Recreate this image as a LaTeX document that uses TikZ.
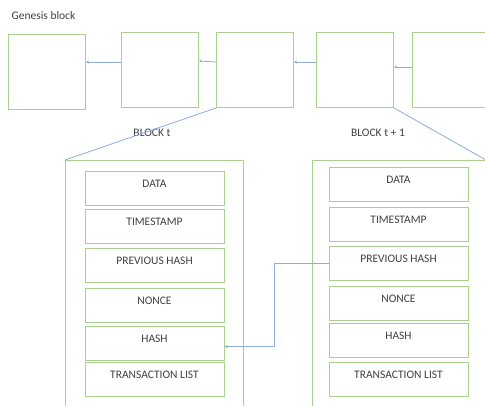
\documentclass[tikz,border=0pt]{standalone}
\usepackage{fontspec}
\setmainfont{Carlito}
\usetikzlibrary{arrows.meta}

\definecolor{boxgreen}{HTML}{A9D18E}
\definecolor{linkblue}{HTML}{8FAADC}
\definecolor{labelgray}{HTML}{404040}

\begin{document}
\begin{tikzpicture}[x=1pt,y=-1pt,
    every node/.style={text=labelgray,font=\fontsize{11.5}{13}\selectfont},
    blk/.style={draw=boxgreen,line width=1pt,minimum width=77pt,minimum height=75pt,anchor=north west},
    field/.style={draw=boxgreen,line width=1pt,minimum width=139pt,inner sep=0pt,
      text height=16pt,text depth=18pt,anchor=north},
    link/.style={draw=linkblue,line width=0.8pt},
    >={Stealth[width=3pt,length=3pt]}]
    \useasboundingbox (0,0) rectangle (485,405);
    \clip (0,0) rectangle (485,405);

    % chain of blocks
    \node[anchor=west] (gen) at (8,16) {Genesis block};
    \node[blk] (b0) at (8,34) {};
    \node[blk] (b1) at (121,32) {};
    \node[blk] (b2) at (216,32) {};
    \node[blk] (b3) at (316,32) {};
    \node[blk] (b4) at (412,32) {};
    \draw[link,->]([yshift=8pt]b1.west)--([yshift=8pt]b1.west -| b0.east);
    \draw[link,->]([yshift=8pt]b2.west)--([yshift=9pt]b1.east);
    \draw[link,->]([yshift=8pt]b3.west)--([yshift=8pt]b3.west -| b2.east);
    \draw[link,->]([yshift=3pt]b4.west)--([yshift=3pt]b4.west -| b3.east);

    \node (tl) at (152,133) {BLOCK t};
    \node (tr) at (378,133) {BLOCK t + 1};

    % zoomed-in blocks
    \coordinate (lf) at (65,160);
    \coordinate (rf) at (486,160);
    \draw[draw=boxgreen,line width=1pt](65,410)--(lf)--(243,160)--(243,410);
    \draw[draw=boxgreen,line width=1pt](312,410)--(312,160)--(rf)--(486,410);
    \draw[link](b2.south west)--(lf);
    \draw[link](b3.south east)--(rf);

    % fields of block t
    \node[field] (l-data) at (154.5,171) {DATA};
    \node[field] (l-time) at (154.5,209) {TIMESTAMP};
    \node[field] (l-prev) at (154.5,248) {PREVIOUS HASH};
    \node[field] (l-nonce) at (154.5,288) {NONCE};
    \node[field] (l-hash) at (154.5,326) {HASH};
    \node[field] (l-tx) at (154.5,362) {TRANSACTION LIST};

    % fields of block t+1
    \node[field] (r-data) at (398.5,167) {DATA};
    \node[field] (r-time) at (398.5,207) {TIMESTAMP};
    \node[field] (r-prev) at (398.5,246) {PREVIOUS HASH};
    \node[field] (r-nonce) at (398.5,286) {NONCE};
    \node[field] (r-hash) at (398.5,323) {HASH};
    \node[field] (r-tx) at (398.5,362) {TRANSACTION LIST};

    \draw[link,->](r-prev.west)--++(-54,0)|-([yshift=-3pt]l-hash.east);
\end{tikzpicture}
\end{document}
